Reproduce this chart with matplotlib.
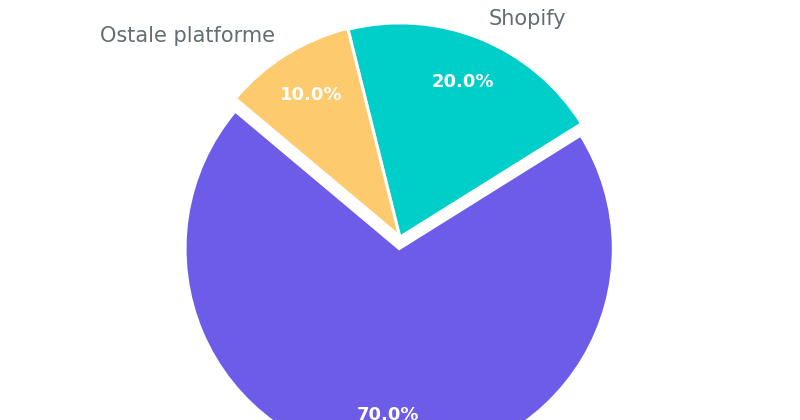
import matplotlib
matplotlib.use("Agg")
import matplotlib.pyplot as plt

# data
labels = ["Shopify", "Ostale platforme", "WooCommerce"]
shares = [20, 10, 70]
colors = ["#00CEC9", "#FDCB6E", "#6C5CE7"]
explode = [0, 0.005, 0.055]

fig = plt.figure(figsize=(8, 4.2), dpi=100)
ax = fig.add_axes([0, 0, 1, 1])

wedges, texts, autotexts = ax.pie(
    shares, labels=labels, colors=colors, explode=explode,
    startangle=32, counterclock=True, autopct="%1.1f%%",
    pctdistance=0.78, labeldistance=1.1,
    wedgeprops=dict(edgecolor="white", linewidth=2),
    textprops=dict(fontsize=15, color="#636E72"),
)
for t in autotexts:
    t.set_color("white")
    t.set_fontsize(13)
    t.set_fontweight("bold")

# pie radius ~214 px, centre near (400, 237) from top
r_px = 214.0
ax.set_xlim(-400 / r_px, 400 / r_px)
ax.set_ylim(-183 / r_px, 237 / r_px)
ax.set_aspect("equal")
ax.axis("off")

fig.savefig("out.png", dpi=100)
